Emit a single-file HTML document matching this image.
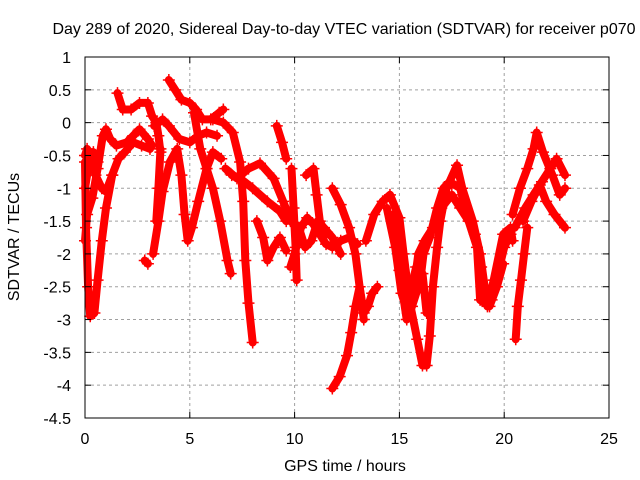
<!DOCTYPE html>
<html><head><meta charset="utf-8"><style>
body{margin:0;background:#fff}
svg{display:block;font-family:"Liberation Sans",sans-serif;font-size:16px}
</style></head><body>
<svg id="chart" width="640" height="480">
<rect width="640" height="480" fill="#fff"/>
<text x="344" y="34" text-anchor="middle" fill="#000">Day 289 of 2020, Sidereal Day-to-day VTEC variation (SDTVAR) for receiver p070</text>
<text x="345" y="471" text-anchor="middle">GPS time / hours</text>
<text x="19" y="237" text-anchor="middle" transform="rotate(-90 19 237)">SDTVAR / TECUs</text>
<g id="grid"></g>
<g id="marks"></g>
<rect x="85" y="57" width="524" height="361" fill="none" stroke="#000" stroke-width="1"/>
<g id="ticks"></g>
</svg>
<script>
const xTicks=[0,5,10,15,20,25];
const yTicks=[1,0.5,0,-0.5,-1,-1.5,-2,-2.5,-3,-3.5,-4,-4.5];
const yTickLabels=["1","0.5","0","-0.5","-1","-1.5","-2","-2.5","-3","-3.5","-4","-4.5"];
const t1=[[0,-0.6],[0.05,-1.6],[0.15,-2.5],[0.25,-2.95],[0.45,-2.9],[0.6,-2.4],[0.8,-1.8],[1.0,-1.3],[1.3,-0.8],[1.6,-0.55],[1.9,-0.45],[2.3,-0.3],[2.7,-0.35],[3.1,-0.4]];
const t2=[[0,-1.8],[0.1,-1.4],[0.35,-1.15],[0.6,-0.7],[0.85,-0.2],[1.0,-0.1],[1.2,-0.25],[1.5,-0.35],[2.0,-0.3],[2.3,-0.2],[2.6,-0.1],[3.0,-0.25],[3.2,-0.35]];
const t3=[[0,-0.5],[0.1,-0.4],[0.3,-0.5],[0.5,-0.8],[0.8,-1.0],[1.0,-1.05],[1.3,-0.8]];
const t4=[[1.55,0.45],[1.8,0.2],[2.2,0.2],[2.6,0.3],[3.0,0.3],[3.2,0.1],[3.4,0.0],[3.5,-0.2],[3.6,-0.45]];
const t5=[[3.3,-0.05],[3.7,0.05],[4.0,-0.05],[4.5,-0.25],[5.0,-0.3],[5.4,-0.2],[5.8,-0.15],[6.3,-0.2]];
const t6=[[3.25,-2.0],[3.5,-1.5],[3.7,-1.05],[4.05,-0.6],[4.4,-0.4],[4.6,-0.8],[4.75,-1.4],[4.9,-1.8],[5.1,-1.6],[5.4,-1.2],[5.8,-0.7],[6.1,-0.45],[6.5,-0.55]];
const t7=[[3.4,-1.5],[3.5,-1.0],[3.6,-0.4]];
const t8=[[4.0,0.65],[4.3,0.5],[4.6,0.35],[5.0,0.3],[5.3,0.2],[5.6,0.05],[6.0,0.05],[6.4,0.15],[6.6,0.2]];
const t9=[[5.2,0.15],[5.5,-0.4],[5.8,-0.7],[6.1,-1.0],[6.45,-1.5],[6.8,-2.1],[6.95,-2.3]];
const t10=[[6.1,0.05],[6.6,0.0],[7.05,-0.15],[7.4,-0.6],[7.55,-1.2],[7.65,-2.1],[7.8,-2.75],[8.0,-3.35]];
const t11=[[6.7,-0.7],[7.25,-0.85],[7.8,-0.7],[8.35,-0.62],[9.0,-0.85],[9.45,-1.2],[9.7,-1.4]];
const t12=[[7.0,-0.8],[7.6,-0.9],[8.0,-1.0],[8.7,-1.2],[9.3,-1.35],[9.6,-1.5]];
const t13=[[8.2,-1.5],[8.5,-1.75],[8.7,-2.1],[9.0,-1.9],[9.3,-1.75],[9.6,-1.95]];
const t14=[[9.15,-0.05],[9.4,-0.3],[9.6,-0.55]];
const t15=[[2.85,-2.1],[3.0,-2.15]];
const t16=[[9.85,-0.7],[9.95,-1.3],[10.05,-1.9],[10.1,-2.4]];
const t17=[[11.8,-4.05],[12.15,-3.87],[12.5,-3.55],[12.7,-3.2],[12.9,-2.8],[13.1,-2.5],[13.3,-2.9],[13.5,-2.8],[13.7,-2.6],[13.95,-2.5]];
const t18=[[11.8,-1.0],[12.2,-1.25],[12.6,-1.6],[12.9,-2.0],[13.1,-2.5],[13.3,-3.0]];
const t19=[[13.4,-1.8],[13.8,-1.4],[14.2,-1.2],[14.55,-1.1],[15.0,-1.45],[15.2,-2.0],[15.5,-2.75],[15.85,-3.3],[16.1,-3.7],[16.3,-3.7],[16.45,-3.25],[16.6,-2.5],[16.8,-1.9],[16.95,-1.5],[17.25,-1.0],[17.75,-0.65],[18.0,-1.0],[18.5,-1.5],[18.85,-2.0],[19.2,-2.8],[19.5,-2.4],[19.95,-1.7],[20.3,-1.6],[20.4,-1.8]];
const t20=[[14.7,-1.4],[15.0,-2.25],[15.35,-3.0],[15.6,-2.8],[16.0,-2.4],[16.15,-2.0],[16.45,-1.75],[16.8,-1.3],[17.1,-1.0],[17.4,-0.9],[17.9,-1.0],[18.2,-1.4],[18.7,-1.9],[18.85,-2.7],[19.3,-2.8],[19.65,-2.5],[19.95,-2.15]];
const t21=[[14.9,-1.8],[15.2,-2.4],[15.5,-2.6],[15.8,-2.2],[16.1,-2.3],[16.3,-2.9]];
const t22=[[9.8,-2.2],[10.0,-2.0],[10.3,-1.6],[10.6,-1.45],[10.9,-1.55],[11.2,-1.7],[11.5,-1.85],[11.8,-1.9],[12.2,-1.8],[12.6,-1.75],[13.0,-1.85]];
const t23=[[9.8,-1.5],[10.2,-1.6],[10.5,-1.9],[10.8,-1.8],[11.1,-1.5],[11.4,-1.6],[11.8,-1.75],[12.2,-2.0]];
const t24=[[10.55,-0.8],[10.9,-0.7],[11.05,-1.1],[11.2,-1.5],[11.5,-1.7]];
const t25=[[20.4,-1.4],[20.75,-1.0],[21.1,-0.7],[21.4,-0.4],[21.55,-0.15],[21.85,-0.45],[22.3,-0.8],[22.65,-1.1],[22.9,-1.0]];
const t26=[[20.5,-1.6],[21.0,-1.3],[21.4,-1.1],[21.8,-0.9],[22.2,-0.7],[22.5,-0.55],[22.9,-0.8]];
const t27=[[20.9,-1.5],[21.3,-1.2],[21.7,-0.95],[22.0,-1.2],[22.4,-1.4],[22.9,-1.6]];
const t28=[[20.55,-3.3],[20.65,-2.8],[20.8,-2.4],[20.95,-2.0],[21.1,-1.6]];
const t29=[[18.6,-1.7],[18.9,-2.2],[19.1,-2.6],[19.4,-2.7],[19.7,-2.3],[20.0,-1.9],[20.3,-1.7]];
const t30=[[14.4,-1.3],[14.8,-1.9],[15.1,-2.6],[15.4,-2.9],[15.7,-2.5],[15.9,-2.0],[16.2,-1.8],[16.6,-1.6],[17.0,-1.3],[17.5,-1.1],[17.9,-1.3],[18.3,-1.5]];
const t31=[[0,-1.0],[0.2,-0.6],[0.4,-0.45],[0.6,-0.6]];
const tracks=[t1,t2,t3,t4,t5,t6,t7,t8,t9,t10,t11,t12,t13,t14,t15,t16,t17,t18,t19,t20,t21,t22,t23,t24,t25,t26,t27,t28,t29,t30,t31];

const NS="http://www.w3.org/2000/svg";
const X0=85,X1=609,Y0=418,Y1=57;
function sx(v){return X0+(v-0)/(25-0)*(X1-X0);}
function sy(v){return Y0-(v-(-4.5))/(1-(-4.5))*(Y0-Y1);}
const grid=document.getElementById('grid'),ticks=document.getElementById('ticks'),marks=document.getElementById('marks');
function mk(tag,attrs,parent){const e=document.createElementNS(NS,tag);for(const k in attrs)e.setAttribute(k,attrs[k]);parent.appendChild(e);return e;}
xTicks.forEach(v=>{
  const x=sx(v);
  if(v>0&&v<25){const g=mk('line',{x1:x,x2:x,y1:Y0,y2:Y1,stroke:'#a0a0a0','stroke-dasharray':'3,3'},grid);
  
  }
  const a=mk('line',{x1:x,x2:x,y1:Y0,y2:Y0-6,stroke:'#000'},ticks);
  
  
  const b=mk('line',{x1:x,x2:x,y1:Y1,y2:Y1+6,stroke:'#000'},ticks);
  
  
  const t=mk('text',{x:x,y:444,'text-anchor':'middle'},ticks);t.textContent=String(v);
  
  
});
yTicks.forEach((v,i)=>{
  const y=sy(v);
  if(i>0&&i<yTicks.length-1){const g=mk('line',{x1:X0,x2:X1,y1:y,y2:y,stroke:'#a0a0a0','stroke-dasharray':'3,3'},grid);
  
  }
  const a=mk('line',{x1:X0,x2:X0+6,y1:y,y2:y,stroke:'#000'},ticks);
  
  
  const b=mk('line',{x1:X1,x2:X1-6,y1:y,y2:y,stroke:'#000'},ticks);
  
  
  const t=mk('text',{x:71,y:y+6,'text-anchor':'end'},ticks);t.textContent=yTickLabels[i];
  
  
});
tracks.forEach((tr,k)=>{
  const pts=tr.map(p=>sx(p[0]).toFixed(1)+','+sy(p[1]).toFixed(1)).join(' ');
  const pl=mk('polyline',{points:pts,fill:'none',stroke:'#ff0000','stroke-width':8,'stroke-linejoin':'round','stroke-linecap':'round'},marks);
  
  
  tr.forEach(p=>{
    const x=sx(p[0]),y=sy(p[1]);
    const c=mk('path',{d:`M${x-6},${y}H${x+6}M${x},${y-6}V${y+6}`,stroke:'#ff0000','stroke-width':1.5},marks);
    
    
  });
});
</script>
</body></html>
